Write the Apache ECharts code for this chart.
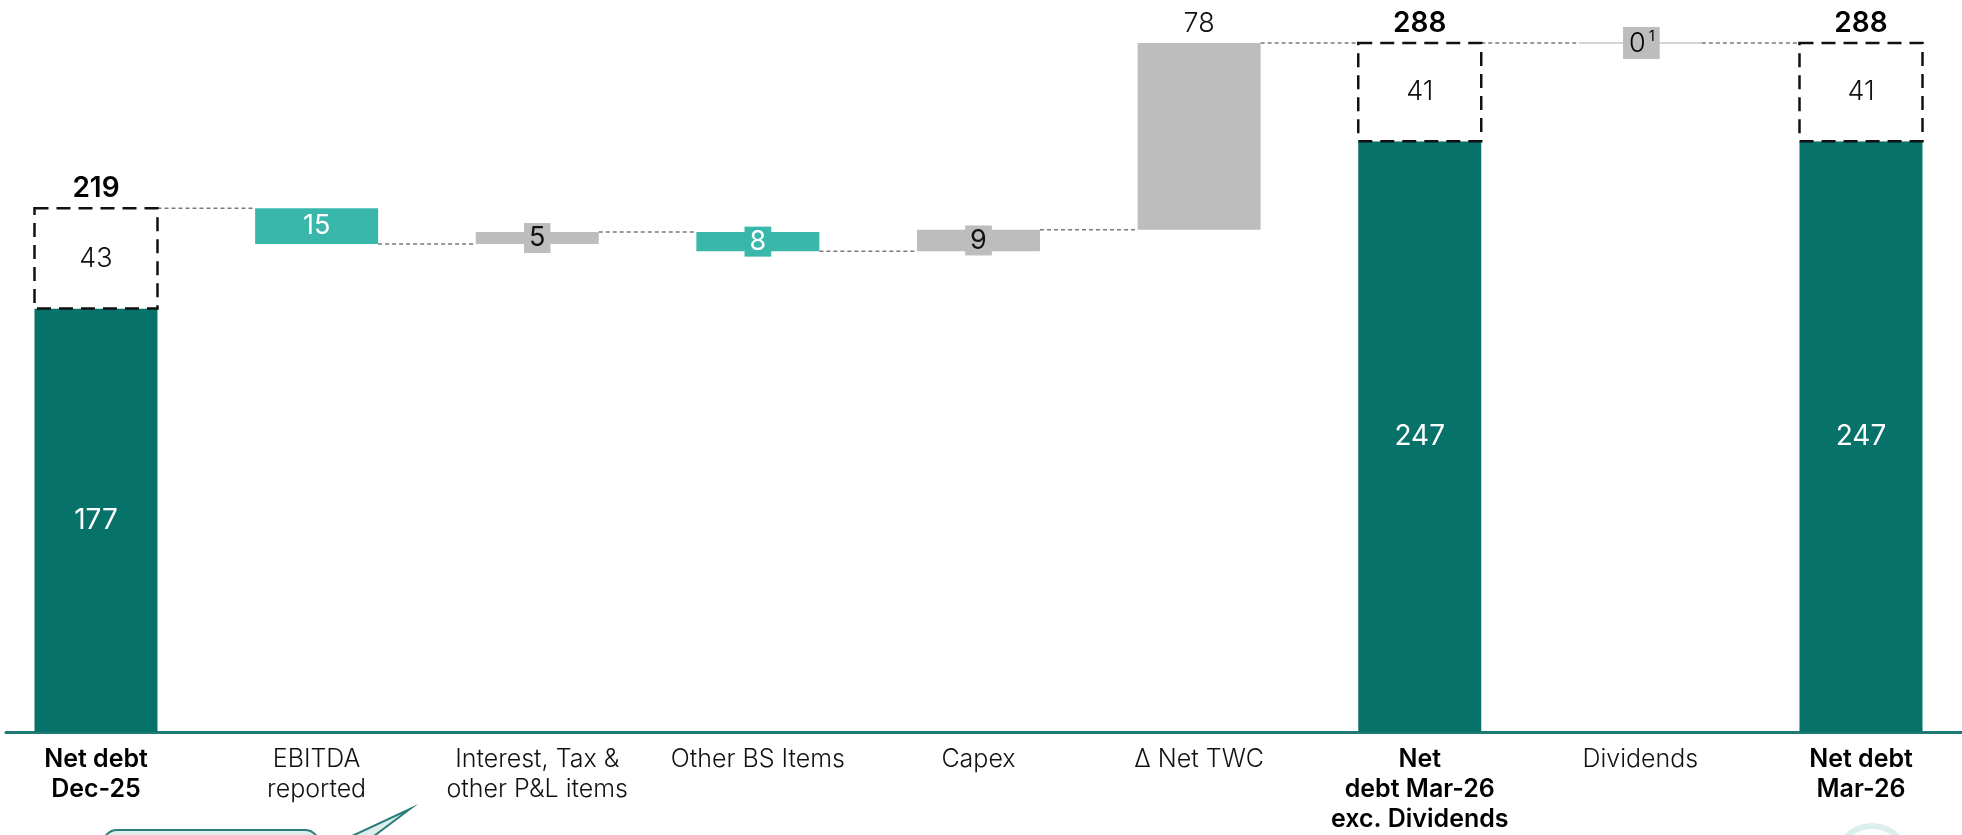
<!DOCTYPE html>
<html>
<head>
<meta charset="utf-8">
<script src="https://cdn.jsdelivr.net/npm/echarts@6/dist/echarts.min.js"></script>
<style>
  html, body { margin: 0; padding: 0; background: #fff; }
  #chart { width: 1962px; height: 835px; }
</style>
</head>
<body>
<div id="chart"></div>
<script>
// categories on the x axis
const categories = [
  'Net debt\nDec-25',
  'EBITDA\nreported',
  'Interest, Tax &\nother P&L items',
  'Other BS Items',
  'Capex',
  'Δ Net TWC',
  'Net\ndebt Mar-26\nexc. Dividends',
  'Dividends',
  'Net debt\nMar-26'
];
// total columns: reported total, solid part, dashed part
const totalIdx = [0, 6, 8];
const totalTop = [219, 288, 288];
const totalSolid = [177, 247, 247];
const totalDashed = [43, 41, 41];
// movements between the totals
const stepIdx = [1, 2, 3, 4, 5];
const stepDelta = [-15, 5, -8, 9, 78];
// dividends (zero movement, footnote 1)
const dividendIdx = 7;
const dividendValue = 0;

const DARK = '#07726a';
const TEAL = '#3ab7ab';
const GREY = '#bdbdbd';
const FONT = 'Inter, "Open Sans", sans-serif';
const barW = 123;

const n = categories.length;
const ends = new Array(n).fill(0);
// bar rows: [x, low, high], with a matching style entry
const barRows = [];
const barKinds = [];

totalIdx.forEach((c, k) => {
  barRows.push([c, 0, totalSolid[k]]);
  barKinds.push({ kind: 'solid', label: totalSolid[k] });
  barRows.push([c, totalSolid[k], totalTop[k]]);
  barKinds.push({ kind: 'dashed', label: totalDashed[k] });
  ends[c] = totalTop[k];
});

let level = ends[0];
stepIdx.forEach((c, k) => {
  const d = stepDelta[k];
  barRows.push([c, Math.min(level, level + d), Math.max(level, level + d)]);
  barKinds.push({ kind: d > 0 ? 'up' : 'down', label: Math.abs(d) });
  level += d;
  ends[c] = level;
});
ends[dividendIdx] = level + dividendValue;

const connectors = [];
for (let i = 0; i < n - 1; i++) connectors.push([i, ends[i]]);
const totalLabels = totalIdx.map(c => [c, ends[c]]);
const catPos = categories.map((c, i) => i);

function renderBar(params, api) {
  const x = api.value(0), lo = api.value(1), hi = api.value(2);
  const meta = barKinds[params.dataIndex];
  const pLo = api.coord([x, lo]);
  const pHi = api.coord([x, hi]);
  const left = pLo[0] - barW / 2;
  const h = pLo[1] - pHi[1];
  const midY = (pLo[1] + pHi[1]) / 2;
  const children = [];
  let rectStyle;
  if (meta.kind === 'solid') rectStyle = { fill: DARK };
  else if (meta.kind === 'dashed') rectStyle = { fill: '#fff', stroke: '#111', lineWidth: 2.5, lineDash: [14, 8] };
  else rectStyle = { fill: meta.kind === 'up' ? GREY : TEAL };
  children.push({ type: 'rect', shape: { x: left, y: pHi[1], width: barW, height: h }, style: rectStyle });

  let label;
  if (meta.kind === 'solid') {
    label = { x: pLo[0], y: midY, style: { text: String(meta.label), fill: '#fff', font: '28px ' + FONT, align: 'center', verticalAlign: 'middle' } };
  } else if (meta.kind === 'dashed') {
    label = { x: pLo[0], y: midY, style: { text: String(meta.label), fill: '#111', font: '300 27px ' + FONT, align: 'center', verticalAlign: 'middle' } };
  } else if (h > 100) {
    label = { x: pLo[0], y: pHi[1] - 6, style: { text: String(meta.label), fill: '#111', font: '300 27px ' + FONT, align: 'center', verticalAlign: 'bottom' } };
  } else {
    const fill = meta.kind === 'up' ? GREY : TEAL;
    label = {
      x: pLo[0], y: midY,
      style: {
        text: String(meta.label), fill: meta.kind === 'up' ? '#111' : '#fff',
        font: '27px ' + FONT, lineHeight: 28, align: 'center', verticalAlign: 'middle',
        backgroundColor: h < 30 ? fill : 'transparent', padding: h < 30 ? [2, 5, 0, 5] : 0
      }
    };
  }
  label.type = 'text';
  children.push(label);
  return { type: 'group', children: children };
}

const chart = echarts.init(document.getElementById('chart'));

chart.setOption({
  animation: false,
  textStyle: { fontFamily: FONT },
  grid: { left: 6, right: 0, top: 14.4, bottom: 103 },
  xAxis: {
    type: 'value',
    min: -0.4079,
    max: 8.4578,
    splitLine: { show: false },
    axisLine: { show: true, onZero: false, lineStyle: { color: '#1d7a72', width: 3 } },
    axisTick: { show: false },
    axisLabel: {
      customValues: catPos,
      margin: 12,
      fontSize: 25,
      lineHeight: 30,
      color: '#111',
      fontWeight: 300,
      formatter: (v) => {
        const i = Math.round(v);
        const txt = categories[i];
        return totalIdx.includes(i)
          ? txt.split('\n').map(s => '{b|' + s + '}').join('\n')
          : txt;
      },
      rich: {
        b: { fontSize: 25, lineHeight: 30, fontWeight: 600, color: '#000' }
      }
    }
  },
  yAxis: { type: 'value', min: 0, max: 300, show: false },
  series: [
    {
      type: 'custom', data: connectors, encode: { x: 0, y: 1 }, z: 1,
      renderItem: (params, api) => {
        const i = api.value(0), v = api.value(1);
        const p0 = api.coord([i, v]);
        const p1 = api.coord([i + 1, v]);
        return {
          type: 'line',
          shape: { x1: p0[0] + barW / 2, y1: p0[1], x2: p1[0] - barW / 2, y2: p1[1] },
          style: { stroke: '#7a7a7a', lineWidth: 1.5, lineDash: [4, 3] }
        };
      }
    },
    {
      type: 'custom', data: barRows, encode: { x: 0, y: [1, 2] }, z: 2,
      renderItem: renderBar
    },
    {
      type: 'custom', data: [[dividendIdx, ends[dividendIdx], dividendValue]], encode: { x: 0, y: 1 }, z: 3,
      renderItem: (params, api) => {
        const p = api.coord([api.value(0), api.value(1)]);
        return {
          type: 'group',
          children: [
            {
              type: 'line',
              shape: { x1: p[0] - barW / 2, y1: p[1], x2: p[0] + barW / 2, y2: p[1] },
              style: { stroke: '#c4c4c4', lineWidth: 1.5 }
            },
            {
              type: 'text', x: p[0] + 1, y: p[1],
              style: {
                text: '{v|' + api.value(2) + '} {s|1}',
                align: 'center', verticalAlign: 'middle',
                backgroundColor: GREY, padding: [3, 5, 1, 6],
                rich: {
                  v: { fontSize: 27, lineHeight: 28, fontFamily: FONT, fontWeight: 300, color: '#222' },
                  s: { fontSize: 14, lineHeight: 28, fontFamily: FONT, color: '#222', verticalAlign: 'top', padding: [0, 0, 10, 0] }
                }
              }
            }
          ]
        };
      }
    },
    {
      type: 'custom', data: totalLabels, encode: { x: 0, y: 1 }, z: 3,
      renderItem: (params, api) => {
        const p = api.coord([api.value(0), api.value(1)]);
        return {
          type: 'text', x: p[0], y: p[1] - 6,
          style: {
            text: String(api.value(1)), align: 'center', verticalAlign: 'bottom',
            font: '600 28px ' + FONT, fill: '#000'
          }
        };
      }
    }
  ],
  graphic: [
    {
      type: 'rect', left: 102, top: 829,
      shape: { width: 216, height: 40, r: 14 },
      style: { fill: '#ddeeec', stroke: '#2b7f78', lineWidth: 2 }
    },
    {
      type: 'polygon',
      shape: { points: [[410, 809], [352, 836], [374, 836]] },
      style: { fill: '#ddeeec', stroke: '#2b7f78', lineWidth: 2 }
    },
    {
      type: 'circle',
      shape: { cx: 1872, cy: 862, r: 36 },
      style: { fill: 'none', stroke: '#dcefec', lineWidth: 6 }
    }
  ]
});
</script>
</body>
</html>
